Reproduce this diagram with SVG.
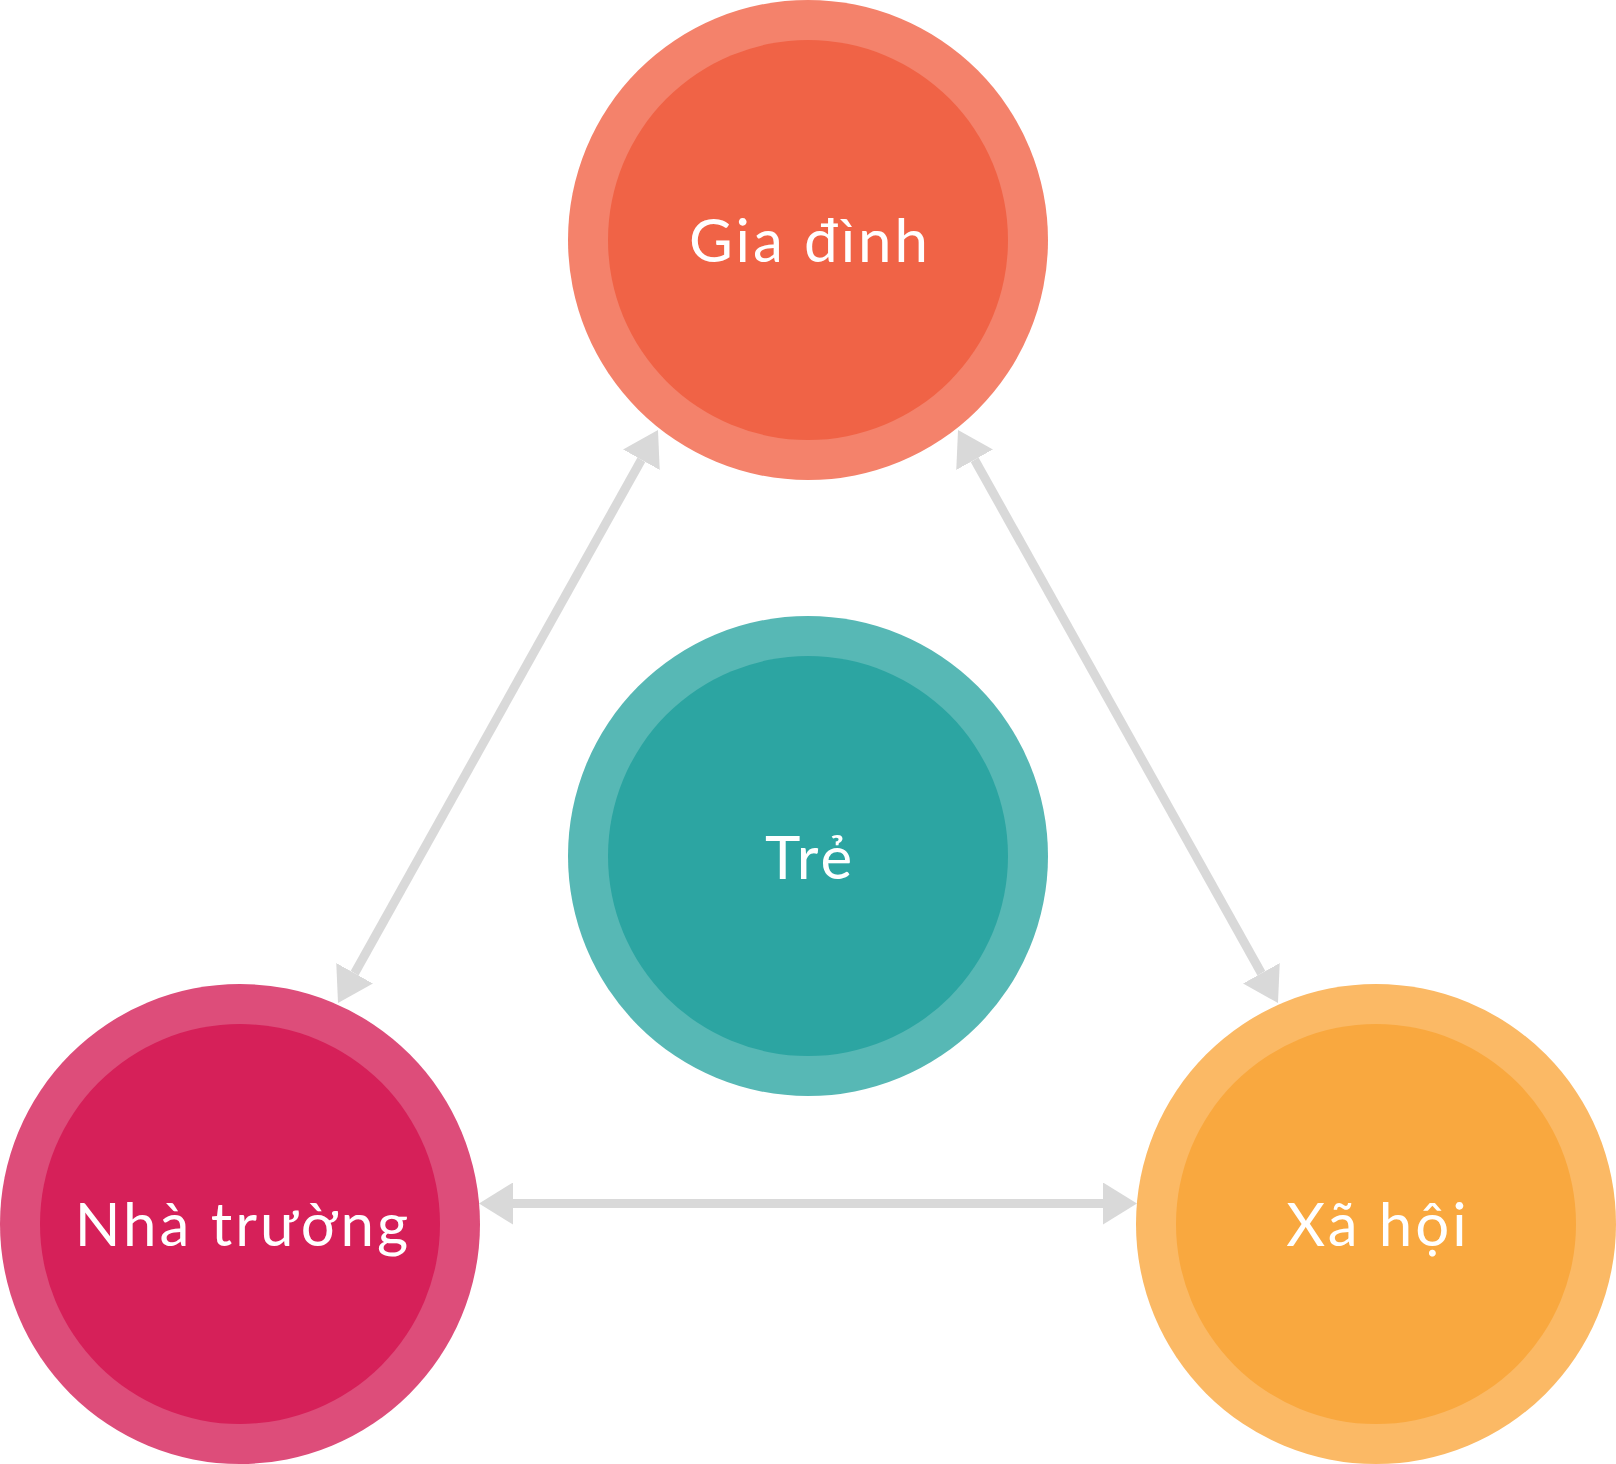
<svg xmlns="http://www.w3.org/2000/svg" width="1616" height="1464" viewBox="0 0 1616 1464">
<style>
.lbl{font-family:Lato,"Noto Sans","DejaVu Sans",sans-serif;font-size:60px;fill:#ffffff;text-anchor:middle;letter-spacing:3px}
.conn{stroke:#D9D9D9;stroke-width:9;fill:none}
</style>
<defs>
<marker id="ah" viewBox="0 0 34 42" refX="0" refY="21" markerWidth="34" markerHeight="42" markerUnits="userSpaceOnUse" orient="auto-start-reverse">
<path d="M0,0 L34,21 L0,42 Z" fill="#D9D9D9"/>
</marker>
</defs>
<rect width="1616" height="1464" fill="#ffffff"/>
<g id="connectors">
<line class="conn" x1="354.6" y1="973.3" x2="641.4" y2="459.7" marker-start="url(#ah)" marker-end="url(#ah)"/>
<line class="conn" x1="974.6" y1="459.7" x2="1261.4" y2="973.3" marker-start="url(#ah)" marker-end="url(#ah)"/>
<line class="conn" x1="513" y1="1203.5" x2="1103" y2="1203.5" marker-start="url(#ah)" marker-end="url(#ah)"/>
</g>
<g id="gia-dinh">
<circle cx="808" cy="240" r="240" fill="#F4826B"/>
<circle cx="808" cy="240" r="200" fill="#F06346"/>
<text class="lbl" x="810" y="262">Gia đình</text>
</g>
<g id="tre">
<circle cx="808" cy="856" r="240" fill="#57B8B5"/>
<circle cx="808" cy="856" r="200" fill="#2CA5A2"/>
<text class="lbl" x="810" y="879">Trẻ</text>
</g>
<g id="nha-truong">
<circle cx="240" cy="1224" r="240" fill="#DD4D7A"/>
<circle cx="240" cy="1224" r="200" fill="#D62059"/>
<text class="lbl" x="243" y="1246">Nhà trường</text>
</g>
<g id="xa-hoi">
<circle cx="1376" cy="1224" r="240" fill="#FBB965"/>
<circle cx="1376" cy="1224" r="200" fill="#F9A83F"/>
<text class="lbl" x="1378" y="1246">Xã hội</text>
</g>
</svg>
